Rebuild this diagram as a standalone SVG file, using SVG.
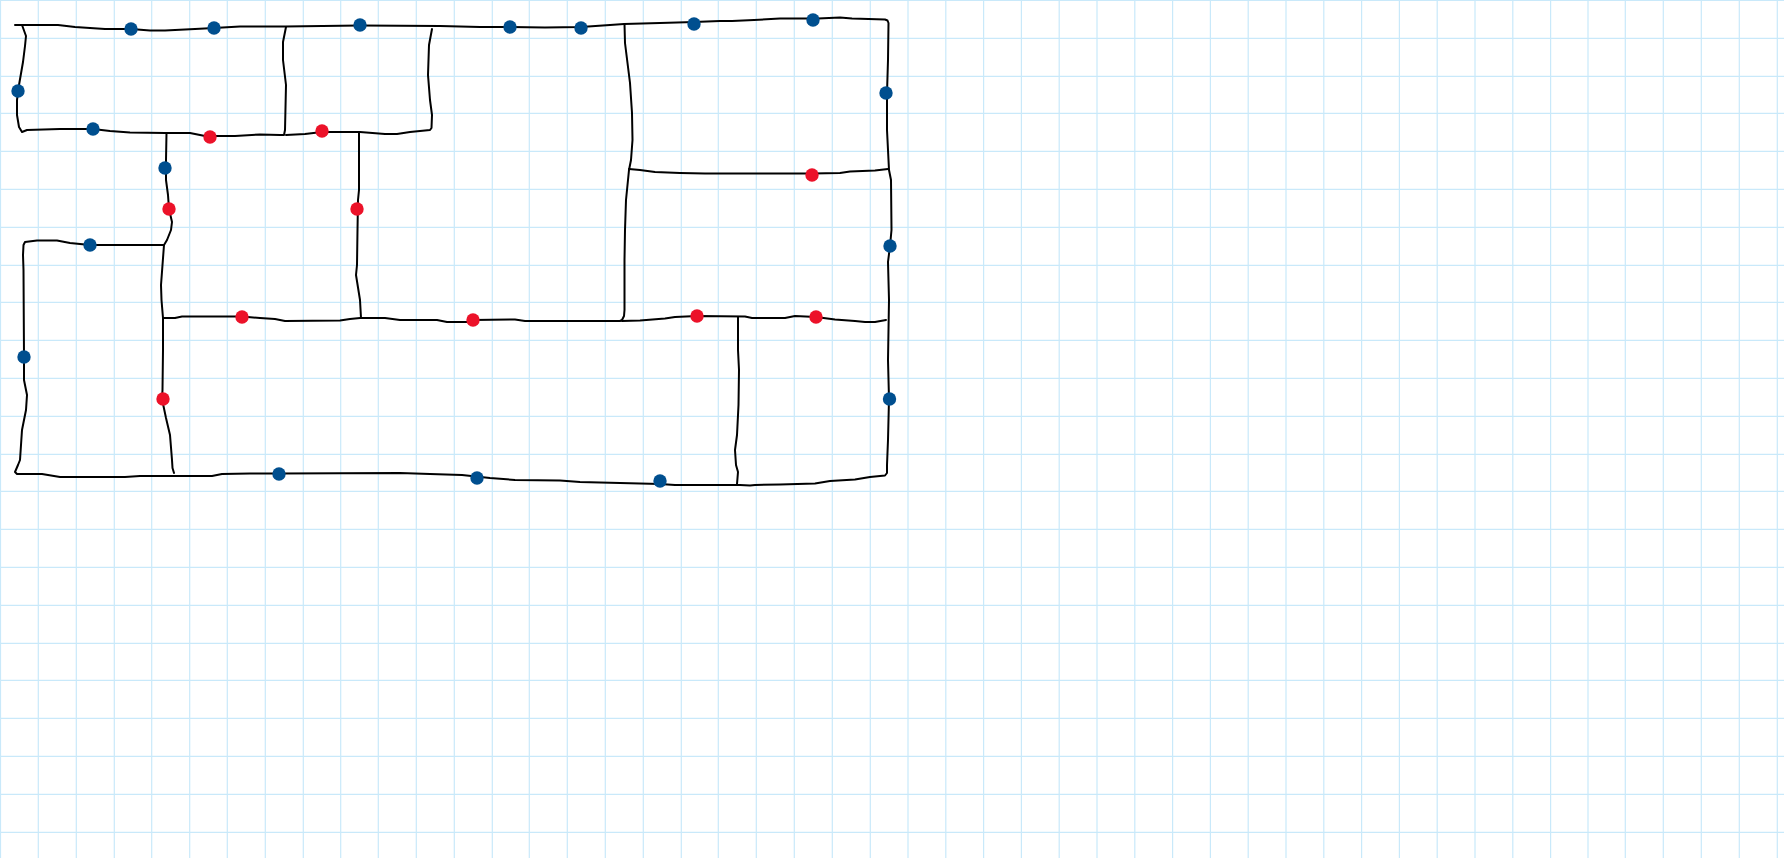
<svg xmlns="http://www.w3.org/2000/svg" width="1784" height="858" viewBox="0 0 1784 858">
<style>
.grid{fill:none;stroke:#c9e9fa;stroke-width:1.2}
.wall{fill:none;stroke:#000;stroke-width:2;stroke-linejoin:round;stroke-linecap:round}
.blue{fill:#004f8f}
.red{fill:#ec1229}
</style>
<rect width="1784" height="858" fill="#fff"/>
<g id="grid">
<path class="grid" d="M.5 0v858M38.300 0v858M76.300 0v858M114.300 0v858M151.700 0v858M189.700 0v858M227.300 0v858M265.300 0v858M303.300 0v858M340.700 0v858M378.300 0v858M416.300 0v858M454.300 0v858M492.300 0v858M529.300 0v858M567.300 0v858M605.300 0v858M643.300 0v858M681.300 0v858M718.300 0v858M756.300 0v858M794.300 0v858M832.300 0v858M870.300 0v858M908 0v858M945.800 0v858M983.600 0v858M1021.400 0v858M1059.200 0v858M1097 0v858M1134.800 0v858M1172.600 0v858M1210.400 0v858M1248.200 0v858M1286 0v858M1323.800 0v858M1361.600 0v858M1399.400 0v858M1437.200 0v858M1475 0v858M1512.800 0v858M1550.600 0v858M1588 0v858M1625.300 0v858M1663.300 0v858M1701.300 0v858M1739.300 0v858M1777.300 0v858"/>
<path class="grid" d="M0 .5h1784M0 38.300h1784M0 76.300h1784M0 113.300h1784M0 151.300h1784M0 189.300h1784M0 227.300h1784M0 265.300h1784M0 302.300h1784M0 340.300h1784M0 378.300h1784M0 416.300h1784M0 454.300h1784M0 491.300h1784M0 529.300h1784M0 567.300h1784M0 605.300h1784M0 643.300h1784M0 680.300h1784M0 718.300h1784M0 756.300h1784M0 794.300h1784M0 832.300h1784"/>
</g>
<g id="connectors">
<path class="wall" d="M15 25L58 25L75 27L105 29L131 29L150 30.5L165 30.5L195 29L214 28L240 26.5L285 26.5L360 25.5L440 26L480 27L510 27L545 27.5L581 27L610 25L624 24L660 23L694 22L720 21L732 21L754 20L780 18.5L818 18.5L840 17.5L852 18.5L885 19.5L887.5 20.500L888.5 23L888 60L887 93L887 130L888 150L889 170L891 180L891.5 230L890 246L888 262L889 300L888 360L889 399L888 440L887 465L887 473L885 475.5L870 477L855 479.5L830 481L815 483.5L780 484.5L755 485L750 485.5L740 485L675 485L660 484L620 483L580 482L560 480.5L515 480L490 478L462 475L430 474L400 473L279 473.5L250 473.5L222 474L212 476L140 476L125 477L60 477L42 474L17 474L15 472L18 465L20 460L22 430L26 410L27 395L24 380L24 357L23.5 270L23 255L23.5 245L25 242L37 240.5L57 240.5L70 243L90 245L164 245"/>
<path class="wall" d="M22 25L26 36L25 46L23 62L19 85L17 100L17 115L19 127L22 132L27 130L60 129L93 129L110 131L130 132.5L165 133L190 133L205 136L235 136L260 134.5L280 135L284 135L285 130L286 85L283 60L283 42L286 27"/>
<path class="wall" d="M286 135L305 134L322 132L360 132L385 134L397 134L410 132L430 130L431.5 128L432 115L430 100L428 75L429 45L432 29"/>
<path class="wall" d="M359 132L359 190L358 200L357.5 230L357 265L356 275L360 300L361 318"/>
<path class="wall" d="M166.5 133L166 160L166 180L168 195L169 209L172 222L171 230L167 240L164 245L162.5 265L161 285L161.5 300L163 318L163 350L162.5 390L162 399L166 418L170 435L172 460L172.5 468L174 473"/>
<path class="wall" d="M163 318L175 318L182 316.5L242 316.5L260 318L275 319L285 321L340 320.5L350 319L360 318L385 318L400 320L437 320L447 322L470 322L473 320L515 319.5L525 321L620 321L622 320L624 316L624.5 310L624.5 260L625 230L626 200L628 180L629 170L631 160L632.5 140L632 113L630 83L625 43L624.5 24"/>
<path class="wall" d="M629 169L640 170L655 172L680 173L705 173.5L812 173.5L840 173L850 171.5L875 170.5L888 169"/>
<path class="wall" d="M622 321L640 320.5L665 318.5L675 317L697 316L745 316.5L752 318L785 318L795 316L816 317L835 319.5L855 321L865 322L875 322L886 320"/>
<path class="wall" d="M738 317L738 350L739 370L738.5 405L737 435L735 450L736 465L738 472L737 484"/>
</g>
<g id="b1"><circle class="blue" cx="131" cy="29" r="6.7"/></g>
<g id="b2"><circle class="blue" cx="214" cy="28" r="6.7"/></g>
<g id="b3"><circle class="blue" cx="360" cy="25" r="6.7"/></g>
<g id="b4"><circle class="blue" cx="510" cy="27" r="6.7"/></g>
<g id="b5"><circle class="blue" cx="581" cy="28" r="6.7"/></g>
<g id="b6"><circle class="blue" cx="694" cy="24" r="6.7"/></g>
<g id="b7"><circle class="blue" cx="813" cy="20" r="6.7"/></g>
<g id="b8"><circle class="blue" cx="886" cy="93" r="6.7"/></g>
<g id="b9"><circle class="blue" cx="890" cy="246" r="6.7"/></g>
<g id="b10"><circle class="blue" cx="889.500" cy="399" r="6.7"/></g>
<g id="b11"><circle class="blue" cx="660" cy="481" r="6.7"/></g>
<g id="b12"><circle class="blue" cx="477" cy="478" r="6.7"/></g>
<g id="b13"><circle class="blue" cx="279" cy="474" r="6.7"/></g>
<g id="b14"><circle class="blue" cx="24" cy="357" r="6.7"/></g>
<g id="b15"><circle class="blue" cx="90" cy="245" r="6.7"/></g>
<g id="b16"><circle class="blue" cx="165" cy="168" r="6.7"/></g>
<g id="b17"><circle class="blue" cx="93" cy="129" r="6.7"/></g>
<g id="b18"><circle class="blue" cx="18" cy="91" r="6.7"/></g>
<g id="r1"><circle class="red" cx="210" cy="137" r="6.7"/></g>
<g id="r2"><circle class="red" cx="322" cy="131" r="6.7"/></g>
<g id="r3"><circle class="red" cx="169" cy="209" r="6.7"/></g>
<g id="r4"><circle class="red" cx="357" cy="209" r="6.7"/></g>
<g id="r5"><circle class="red" cx="242" cy="317" r="6.7"/></g>
<g id="r6"><circle class="red" cx="163" cy="399" r="6.7"/></g>
<g id="r7"><circle class="red" cx="473" cy="320" r="6.7"/></g>
<g id="r8"><circle class="red" cx="697" cy="316" r="6.7"/></g>
<g id="r9"><circle class="red" cx="816" cy="317" r="6.7"/></g>
<g id="r10"><circle class="red" cx="812" cy="175" r="6.7"/></g>
</svg>
